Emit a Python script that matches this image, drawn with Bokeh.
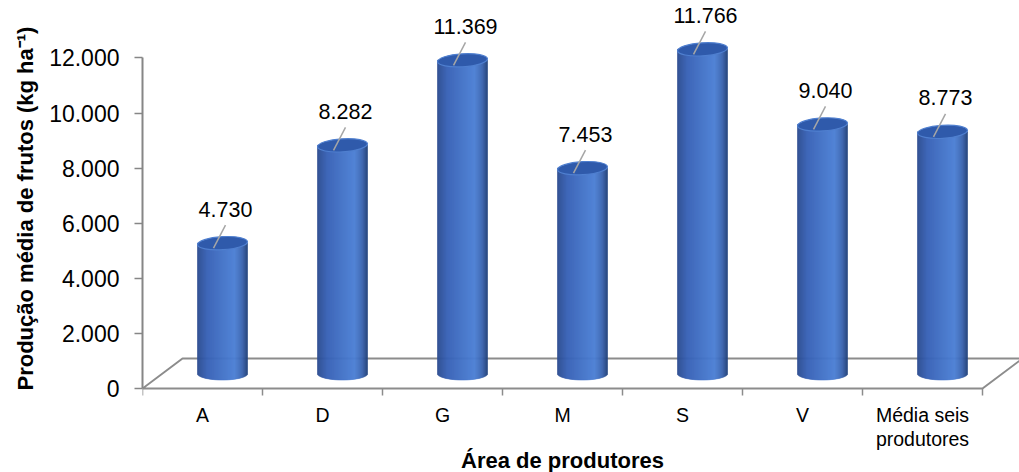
import numpy as np
from bokeh.plotting import figure
from bokeh.models import Range1d, FixedTicker, Title
from bokeh.core.properties import value
from bokeh.embed import file_html
from bokeh.resources import INLINE

# Average fruit yield per producer area (kg/ha)
categories = ["A", "D", "G", "M", "S", "V", "Média seis\nprodutores"]
yield_kg_ha = [4730, 8282, 11369, 7453, 11766, 9040, 8773]
y_ticks = [0, 2000, 4000, 6000, 8000, 10000, 12000]


def fmt_pt(v):
    # Brazilian thousands separator
    return f"{int(v):,}".replace(",", ".")


FONT = value("Liberation Sans")

# screen geometry helpers (value units per pixel / category units per pixel)
K = 2000 / 55.1
PX = 1 / 120.0
DEPTH_X, DEPTH_Y = 40 * PX, 30 * K  # floor depth offset
RX, RY = 25 * PX, 6.5 * K           # cylinder radius / ellipse half-height

p = figure(width=1019, height=472, output_backend="svg", toolbar_location=None,
           x_range=Range1d(0, 877 * PX), y_range=Range1d(-84 * K, 388 * K),
           x_axis_location=None,
           min_border_left=142, min_border_right=0, min_border_top=0,
           min_border_bottom=0)
p.outline_line_color = None
p.grid.visible = False
p.background_fill_color = "white"
p.border_fill_color = "white"

n = len(categories)

# floor of the 3D plot area
p.patch([0, n, n + DEPTH_X, DEPTH_X], [0, 0, DEPTH_Y, DEPTH_Y],
        fill_color="white", line_color="#8c8c8c", line_width=2)
p.segment(x0=list(range(n + 1)), y0=[0] * (n + 1), x1=list(range(n + 1)),
          y1=[-7 * K] * (n + 1), line_color="#8c8c8c", line_width=1.5)

# cylinder shading stops (position across width -> colour)
stops_u = [-1.0, -0.6, 0.2, 0.5, 0.8, 1.0]
stops_c = ["#2a4a8e", "#3660b5", "#4577cc", "#4a7ed4", "#3a64b0", "#22407a"]
stops_rgb = np.array([[int(c[i:i + 2], 16) for i in (1, 3, 5)] for c in stops_c])


def shade(u):
    rgb = [np.interp(u, stops_u, stops_rgb[:, j]) for j in range(3)]
    return "#%02x%02x%02x" % tuple(int(round(v)) for v in rgb)


NS = 50
edges = np.linspace(-1, 1, NS + 1)
mids = 0.5 * (edges[:-1] + edges[1:])
colors = [shade(u) for u in mids]

centers = [i + 0.5 + DEPTH_X / 2 for i in range(n)]
base = DEPTH_Y / 2

L, R, B, T, C = [], [], [], [], []
for xc, v in zip(centers, yield_kg_ha):
    for j in range(NS):
        L.append(xc + RX * edges[j])
        R.append(xc + RX * edges[j + 1])
        B.append(base - RY * np.sqrt(max(0.0, 1 - mids[j] ** 2)))
        T.append(base + v)
        C.append(colors[j])
p.quad(left=L, right=R, bottom=B, top=T, fill_color=C, line_color=C, line_width=0.6)

tops = [base + v for v in yield_kg_ha]
p.ellipse(x=centers, y=tops, width=2 * RX, height=2 * RY, angle=0.06,
          fill_color="#2f5aab", line_color="#4f7fcf", line_width=1.2)

# leader lines and value labels
p.segment(x0=[c - 9 * PX for c in centers], y0=[t - 5 * K for t in tops],
          x1=[c + 3 * PX for c in centers], y1=[t + 18 * K for t in tops],
          line_color="#a6a6a6", line_width=1.5)
p.text(x=[c + 3 * PX for c in centers], y=[t + 34 * K for t in tops],
       text=[fmt_pt(v) for v in yield_kg_ha], text_align="center",
       text_baseline="middle", text_font=FONT, text_font_size="21.5px",
       text_color="#000000")

# category labels under the front edge of the floor
p.text(x=[i + 0.5 for i in range(n)], y=[-15 * K] * n, text=categories,
       text_align="center", text_baseline="top", text_font=FONT,
       text_font_size="19.5px", text_color="#000000", text_line_height=1.12)
p.text(x=[n / 2], y=[-72 * K], text=["Área de produtores"], text_align="center",
       text_baseline="middle", text_font=FONT, text_font_style="bold",
       text_font_size="22px", text_color="#000000")

# value axis
ya = p.yaxis[0]
ya.ticker = FixedTicker(ticks=y_ticks)
ya.major_label_overrides = {t: fmt_pt(t) for t in y_ticks}
ya.bounds = (0, 12000)
ya.axis_line_color = "#868686"
ya.axis_line_width = 2
ya.major_tick_line_color = "#868686"
ya.major_tick_line_width = 1.5
ya.major_tick_out = 8
ya.major_tick_in = 0
ya.minor_tick_line_color = None
ya.major_label_standoff = 15
ya.major_label_text_font = "Liberation Sans"
ya.major_label_text_font_size = "23px"
ya.major_label_text_color = "#000000"

p.add_layout(Title(text="Produção média de frutos (kg ha⁻¹)", align="left",
                   offset=82, standoff=18, text_font="Liberation Sans",
                   text_font_style="bold", text_font_size="22px",
                   text_line_height=0.8, text_color="#000000"), "left")

open("out.html", "w").write(file_html(p, INLINE))
